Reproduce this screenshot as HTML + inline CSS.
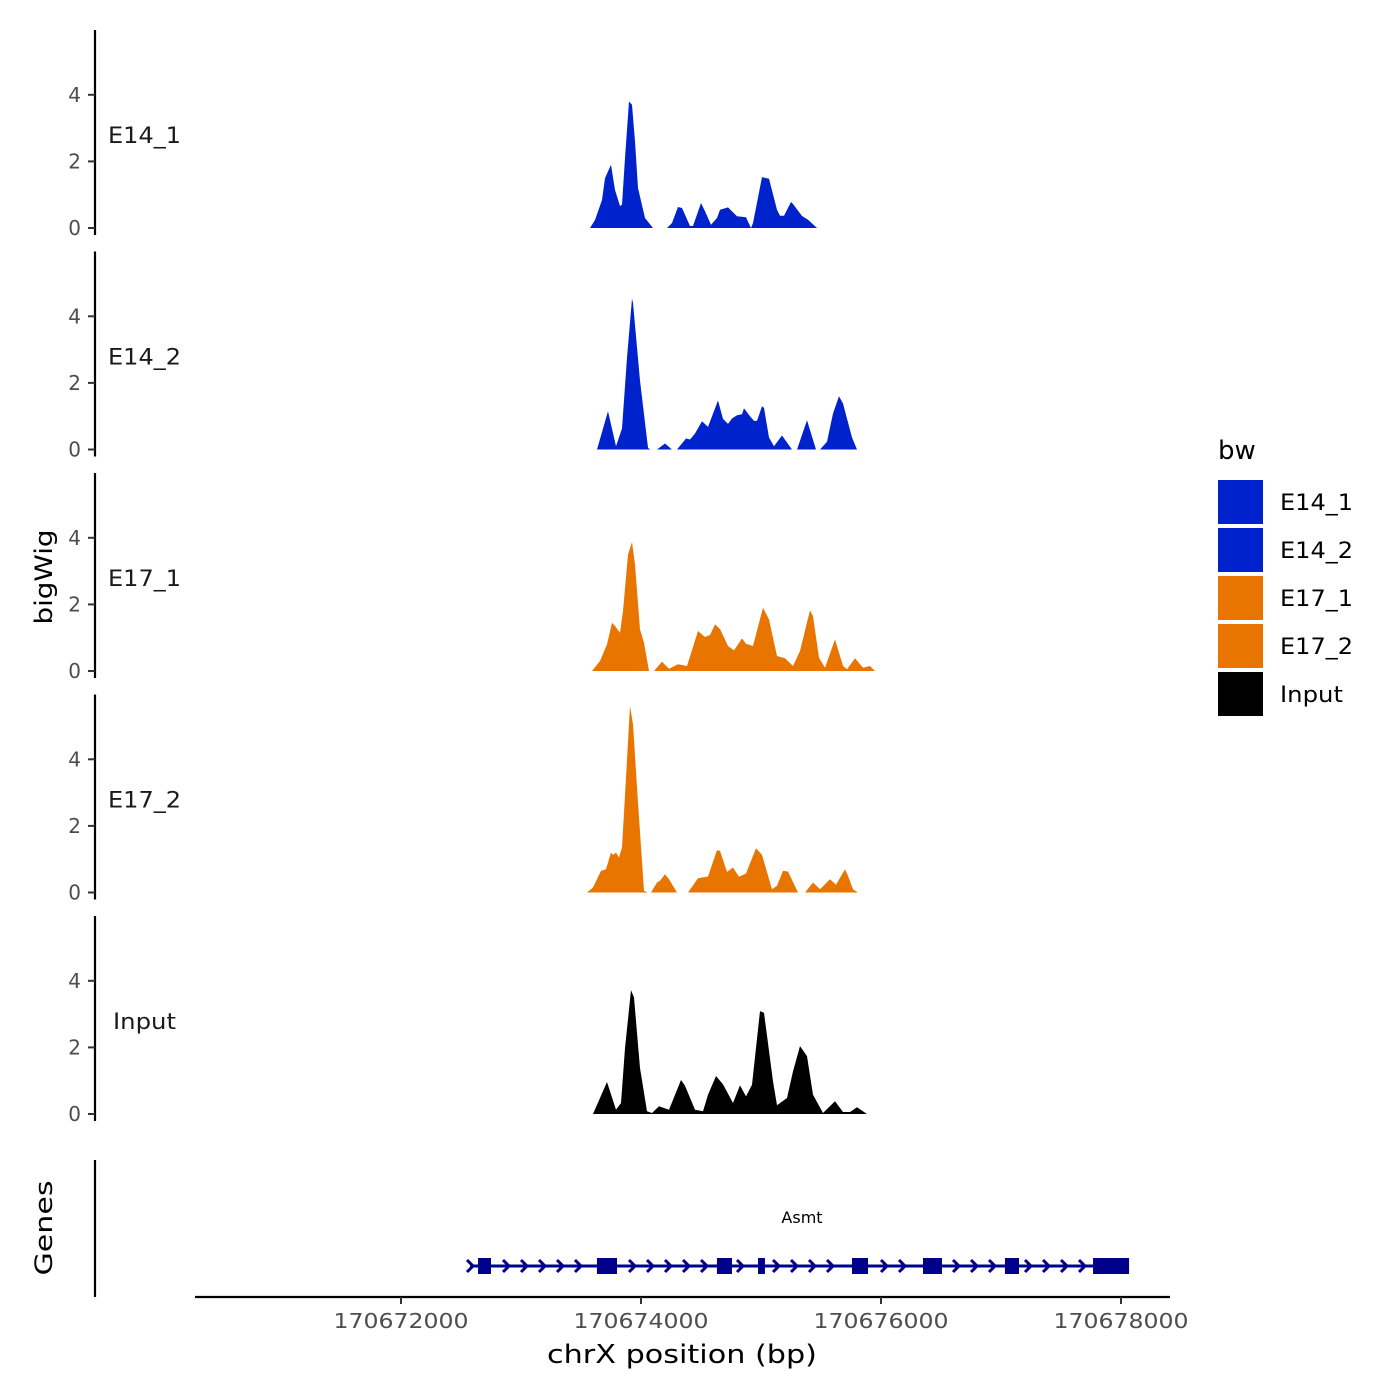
<!DOCTYPE html>
<html><head><meta charset="utf-8">
<style>
html,body{margin:0;padding:0;background:#fff;}
svg{display:block;font-family:"DejaVu Sans","Liberation Sans",sans-serif;}
</style></head>
<body>
<svg id="chart" width="1400" height="1400" viewBox="0 0 1400 1400">
<g id="tracks"></g>
<g id="genes"></g>
<g id="xaxis"></g>
<text x="0" y="0" transform="translate(52,577) rotate(-90)" text-anchor="middle" font-size="24" textLength="95" lengthAdjust="spacingAndGlyphs">bigWig</text>
<text x="0" y="0" transform="translate(52,1228) rotate(-90)" text-anchor="middle" font-size="24" textLength="95" lengthAdjust="spacingAndGlyphs">Genes</text>
<text x="682" y="1363" text-anchor="middle" font-size="26" textLength="270" lengthAdjust="spacingAndGlyphs">chrX position (bp)</text>
<g id="legend"></g>
</svg>
<script>
const regionStart = 170672000;
const trackNames = ["E14_1","E14_2","E17_1","E17_2","Input"];
const trackColors = ["#0022cc","#0022cc","#e87500","#e87500","#000000"];
const yTicks = [0,2,4];
const xTicks = [170672000,170674000,170676000,170678000];
// offsets (bp from regionStart) and values; null = gap
const pos1 = [1575,1617,1675,1700,1750,1783,1825,1842,1867,1900,1925,1950,1975,2033,2100,2150,2217,2258,2308,2342,2408,2433,2500,2533,2583,2633,2658,2725,2800,2875,2917,2933,3008,3067,3133,3158,3192,3250,3267,3342,3392,3467];
const val1 = [0,0.24,0.84,1.5,1.9,1.14,0.66,0.7,2.1,3.8,3.7,2.6,1.2,0.3,0,null,0,0.15,0.63,0.6,0.06,0.06,0.75,0.5,0.1,0.3,0.55,0.62,0.35,0.32,0,0.15,1.53,1.48,0.55,0.37,0.37,0.78,0.72,0.36,0.25,0];
const pos2 = [1633,1725,1792,1842,1883,1925,1933,1992,2058,2075,2100,2133,2200,2258,2280,2300,2375,2408,2450,2508,2558,2642,2683,2725,2758,2800,2842,2858,2908,2942,2967,3008,3025,3067,3108,3175,3258,3280,3300,3383,3458,3492,3550,3600,3650,3683,3758,3800];
const val2 = [0,1.15,0.1,0.63,2.76,4.53,4.4,2.07,0.05,0,null,0,0.18,0,null,0,0.33,0.3,0.48,0.85,0.68,1.47,0.92,0.77,0.93,1.03,1.06,1.24,1.0,0.86,0.86,1.3,1.25,0.36,0.1,0.42,0,null,0,0.88,0,0,0.23,1.08,1.6,1.38,0.36,0];
const pos3 = [1592,1658,1717,1758,1783,1825,1850,1892,1925,1950,1992,2025,2067,2090,2108,2175,2233,2308,2383,2475,2533,2575,2617,2658,2725,2775,2842,2875,2933,3017,3067,3133,3200,3267,3325,3408,3433,3483,3533,3617,3683,3717,3783,3850,3908,3950];
const val3 = [0,0.3,0.8,1.45,1.35,1.15,1.8,3.5,3.87,3.2,1.25,0.85,0,null,0,0.28,0.07,0.2,0.15,1.2,1.02,1.08,1.4,1.26,0.75,0.62,0.98,0.82,0.75,1.9,1.55,0.45,0.38,0.15,0.6,1.82,1.65,0.4,0.1,0.95,0.15,0.05,0.38,0.1,0.15,0];
const pos4 = [1550,1600,1667,1708,1750,1767,1792,1817,1842,1875,1908,1933,1975,2025,2058,2070,2083,2133,2158,2200,2233,2300,2350,2392,2475,2558,2633,2658,2717,2767,2817,2875,2958,3008,3092,3133,3183,3225,3308,3340,3367,3433,3492,3575,3625,3700,3725,3767,3808];
const val4 = [0,0.15,0.65,0.7,1.2,1.13,1.2,1.05,1.35,3.45,5.6,5.05,2.7,0.05,0,null,0,0.3,0.35,0.55,0.4,0,null,0,0.43,0.48,1.27,1.25,0.62,0.75,0.47,0.57,1.33,1.13,0.1,0.2,0.65,0.63,0,null,0,0.3,0.1,0.4,0.23,0.7,0.5,0.1,0];
const pos5 = [1600,1717,1792,1833,1867,1917,1942,1992,2050,2092,2150,2233,2333,2367,2450,2517,2558,2625,2683,2767,2825,2875,2925,2992,3025,3100,3133,3217,3267,3325,3383,3433,3517,3617,3683,3742,3800,3883];
const val5 = [0,0.96,0.13,0.33,1.98,3.72,3.5,1.38,0.08,0.03,0.23,0.13,1.02,0.85,0.13,0.08,0.58,1.14,0.89,0.33,0.86,0.53,0.88,3.09,3.04,0.98,0.26,0.48,1.28,2.04,1.74,0.58,0.03,0.38,0.06,0.06,0.2,0];
const positions = [pos1,pos2,pos3,pos4,pos5];
const values = [val1,val2,val3,val4,val5];
const geneName = "Asmt";
const geneStart = 575, geneEnd = 6067;
const exonStarts = [642,1633,2633,2975,3758,4350,5033,5767];
const exonEnds = [750,1800,2758,3033,3892,4508,5150,6067];

const NS = "http://www.w3.org/2000/svg";
function mk(tag, attrs, parent){const e=document.createElementNS(NS,tag);for(const k in attrs)e.setAttribute(k,attrs[k]);parent.appendChild(e);return e;}
const xS = off => 401 + off*0.12;
const xAbs = bp => 401 + (bp-regionStart)*0.12;
const panelTop = i => 30 + i*221.5;
const yS = (i,v) => panelTop(i) + 198 - v*33.3;

const tracksG = document.getElementById("tracks");
trackNames.forEach((name,i)=>{
  const g = mk("g",{},tracksG);
  
  
  const ax = mk("line",{x1:95,x2:95,y1:panelTop(i),y2:panelTop(i)+205,stroke:"#000","stroke-width":2.2},g);
  
  
  yTicks.forEach(t=>{
    const y = yS(i,t);
    const tk = mk("line",{x1:88,x2:95,y1:y,y2:y,stroke:"#333","stroke-width":2},g);
    
    
    const tl = mk("text",{x:81,y:y+7,"text-anchor":"end","font-size":20,fill:"#4d4d4d"},g);
    tl.textContent = t;
    
    
  });
  const isInput = name==="Input";
  const lbl = mk("text",{x:isInput?113:108,y:panelTop(i)+113,"font-size":22,fill:"#1a1a1a",textLength:isInput?63:73,lengthAdjust:"spacingAndGlyphs"},g);
  lbl.textContent = name;
  
  
  const P = positions[i], V = values[i];
  let seg = [];
  const segs = [];
  for(let k=0;k<P.length;k++){
    if(V[k]===null){ if(seg.length) segs.push(seg); seg=[]; }
    else seg.push([P[k],V[k]]);
  }
  if(seg.length) segs.push(seg);
  segs.forEach(s=>{
    const base = yS(i,0);
    let d = "M"+xS(s[0][0])+","+base;
    s.forEach(p=>{ d += " L"+xS(p[0]).toFixed(1)+","+yS(i,p[1]).toFixed(1); });
    d += " L"+xS(s[s.length-1][0])+","+base+" Z";
    const a = mk("path",{d:d,fill:trackColors[i]},g);
    
    
  });
});

// gene track
const gG = document.getElementById("genes");
const gax = mk("line",{x1:95,x2:95,y1:1160,y2:1297,stroke:"#000","stroke-width":2.2},gG);


const gy = 1266;
const gl = mk("line",{x1:xS(geneStart),x2:xS(geneEnd),y1:gy,y2:gy,stroke:"#00008b","stroke-width":3},gG);


for(let b=geneStart; b<geneEnd; b+=150){
  let inExon=false;
  for(let e=0;e<exonStarts.length;e++) if(b>exonStarts[e]-60 && b<exonEnds[e]+40) inExon=true;
  if(inExon) continue;
  const x = xS(b);
  const c = mk("path",{d:`M${x-3},${gy-6} L${x+3},${gy} L${x-3},${gy+6}`,fill:"none",stroke:"#00008b","stroke-width":3},gG);
  
  
}
exonStarts.forEach((s,e)=>{
  const r = mk("rect",{x:xS(s),y:gy-8,width:xS(exonEnds[e])-xS(s),height:16,fill:"#00008b"},gG);
  
  
});
const gn = mk("text",{x:802,y:1223,"text-anchor":"middle","font-size":16,fill:"#000"},gG);
gn.textContent = geneName;



// x axis
const xG = document.getElementById("xaxis");
const xl = mk("line",{x1:195,x2:1170,y1:1297,y2:1297,stroke:"#000","stroke-width":2.2},xG);


xTicks.forEach(t=>{
  const x = xAbs(t);
  const tk = mk("line",{x1:x,x2:x,y1:1297,y2:1304,stroke:"#333","stroke-width":2},xG);
  
  
  const tl = mk("text",{x:x,y:1328,"text-anchor":"middle","font-size":20,fill:"#4d4d4d",textLength:135,lengthAdjust:"spacingAndGlyphs"},xG);
  tl.textContent = t;
  
  
});

// legend
const lG = document.getElementById("legend");
const lt = mk("text",{x:1218,y:459,"font-size":26,fill:"#000"},lG);
lt.textContent = "bw";


trackNames.forEach((name,i)=>{
  const y = 480 + i*48;
  const r = mk("rect",{x:1218,y:y,width:45,height:44,fill:trackColors[i]},lG);
  
  
  const t = mk("text",{x:1280,y:y+30,"font-size":22,fill:"#000",textLength:name==="Input"?63:73,lengthAdjust:"spacingAndGlyphs"},lG);
  t.textContent = name;
  
  
});
</script>
</body></html>
